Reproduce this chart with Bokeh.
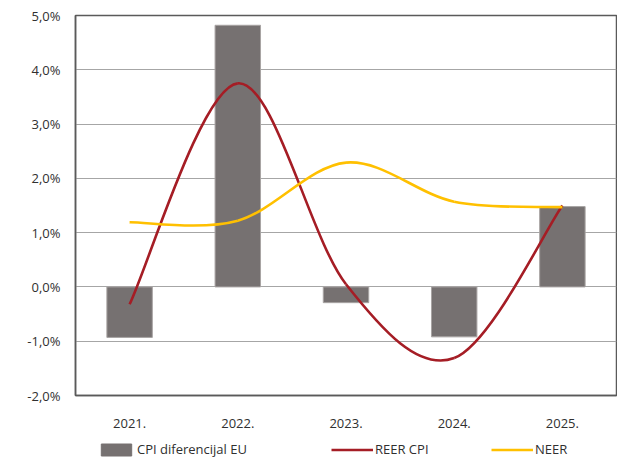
from bokeh.plotting import figure
from bokeh.layouts import column
from bokeh.models import (ColumnDataSource, FixedTicker, Legend, LegendItem, Range1d)
from bokeh.embed import file_html
from bokeh.resources import INLINE

# ---- data ----
years = ["2021.", "2022.", "2023.", "2024.", "2025."]
cpi_diff = [-0.93, 4.82, -0.29, -0.92, 1.48]
reer_cpi = [-0.32, 3.75, 0.05, -1.31, 1.50]
neer = [1.19, 1.22, 2.29, 1.57, 1.47]
y_ticks = [-2, -1, 0, 1, 2, 3, 4, 5]
y_labels = ["-2,0%", "-1,0%", "0,0%", "1,0%", "2,0%", "3,0%", "4,0%", "5,0%"]
series_names = ["CPI diferencijal EU", "REER CPI", "NEER"]

FONT = "Open Sans"
TXT = "#303030"
FRAME = "#5a5a5a"
BAR = "#767171"
RED = "#a51d25"
YEL = "#ffc000"

xs = list(range(len(years)))

p = figure(width=617, height=432, output_backend="svg", toolbar_location=None,
           x_range=Range1d(-0.5, len(years) - 0.5), y_range=Range1d(-2, 5),
           min_border_left=75, min_border_right=1, min_border_top=15, min_border_bottom=37)
p.outline_line_color = FRAME
p.outline_line_width = 1.5
p.background_fill_color = "white"
p.border_fill_color = "white"

# bars
p.vbar(x=xs, top=cpi_diff, bottom=0, width=0.42,
       fill_color=BAR, line_color="#a8a4a3", line_width=1)


def smooth_segments(xv, yv):
    n = len(xv)
    d = dict(x0=[], y0=[], x1=[], y1=[], cx0=[], cy0=[], cx1=[], cy1=[])
    for i in range(n - 1):
        im = max(i - 1, 0)
        ip2 = min(i + 2, n - 1)
        d["x0"].append(xv[i]); d["y0"].append(yv[i])
        d["x1"].append(xv[i + 1]); d["y1"].append(yv[i + 1])
        d["cx0"].append(xv[i] + (xv[i + 1] - xv[im]) / 6)
        d["cy0"].append(yv[i] + (yv[i + 1] - yv[im]) / 6)
        d["cx1"].append(xv[i + 1] - (xv[ip2] - xv[i]) / 6)
        d["cy1"].append(yv[i + 1] - (yv[ip2] - yv[i]) / 6)
    return ColumnDataSource(d)


p.bezier(x0="x0", y0="y0", x1="x1", y1="y1", cx0="cx0", cy0="cy0", cx1="cx1", cy1="cy1",
         source=smooth_segments(xs, reer_cpi), line_color=RED, line_width=2.6)
p.bezier(x0="x0", y0="y0", x1="x1", y1="y1", cx0="cx0", cy0="cy0", cx1="cx1", cy1="cy1",
         source=smooth_segments(xs, neer), line_color=YEL, line_width=2.6)

# axes
p.xaxis.ticker = FixedTicker(ticks=xs)
p.xaxis.major_label_overrides = {i: lab for i, lab in enumerate(years)}
p.yaxis.ticker = FixedTicker(ticks=y_ticks)
p.yaxis.major_label_overrides = {t: lab for t, lab in zip(y_ticks, y_labels)}
for ax in (p.xaxis, p.yaxis):
    ax.axis_line_color = FRAME
    ax.axis_line_width = 1.5
    ax.major_tick_line_color = None
    ax.minor_tick_line_color = None
    ax.major_label_text_font = FONT
    ax.major_label_text_font_size = "13px"
    ax.major_label_text_color = TXT
p.xaxis.major_label_standoff = 17
p.yaxis.major_label_standoff = 9

p.xgrid.grid_line_color = None
p.ygrid.ticker = FixedTicker(ticks=y_ticks)
p.ygrid.grid_line_color = "#a6a6a6"
p.ygrid.grid_line_width = 1

# ---- legend strip ----
lf = figure(width=617, height=27, output_backend="svg", toolbar_location=None,
            x_range=Range1d(0, 1), y_range=Range1d(0, 1),
            x_axis_location=None, y_axis_location=None,
            min_border_left=75, min_border_right=1, min_border_top=0, min_border_bottom=0)
lf.outline_line_color = None
lf.grid.grid_line_color = None
lf.border_fill_color = "white"
lf.background_fill_color = "white"

# proxies hold data well outside the visible y range (only their legend glyphs show)
bar_proxy = lf.vbar(x=[0.5], top=[-5], bottom=-6, width=0.1, fill_color=BAR, line_color=BAR)
red_proxy = lf.line(x=[0.4, 0.6], y=[-5, -5], line_color=RED, line_width=2.6)
yel_proxy = lf.line(x=[0.4, 0.6], y=[-5, -5], line_color=YEL, line_width=2.6)


def make_legend(label, rend, x, gw):
    lg = Legend(items=[LegendItem(label=label, renderers=[rend])], location=(x, 1),
                orientation="horizontal", glyph_width=gw, glyph_height=15,
                label_height=15, label_standoff=2, padding=0, margin=0, spacing=0,
                border_line_color=None, background_fill_alpha=0,
                label_text_font=FONT, label_text_font_size="13px",
                label_text_color=TXT)
    lf.add_layout(lg, "center")


make_legend(series_names[0], bar_proxy, 22, 38)
make_legend(series_names[1], red_proxy, 256, 42)
make_legend(series_names[2], yel_proxy, 416, 42)

open("out.html", "w").write(file_html(column(p, lf, spacing=0), INLINE))
